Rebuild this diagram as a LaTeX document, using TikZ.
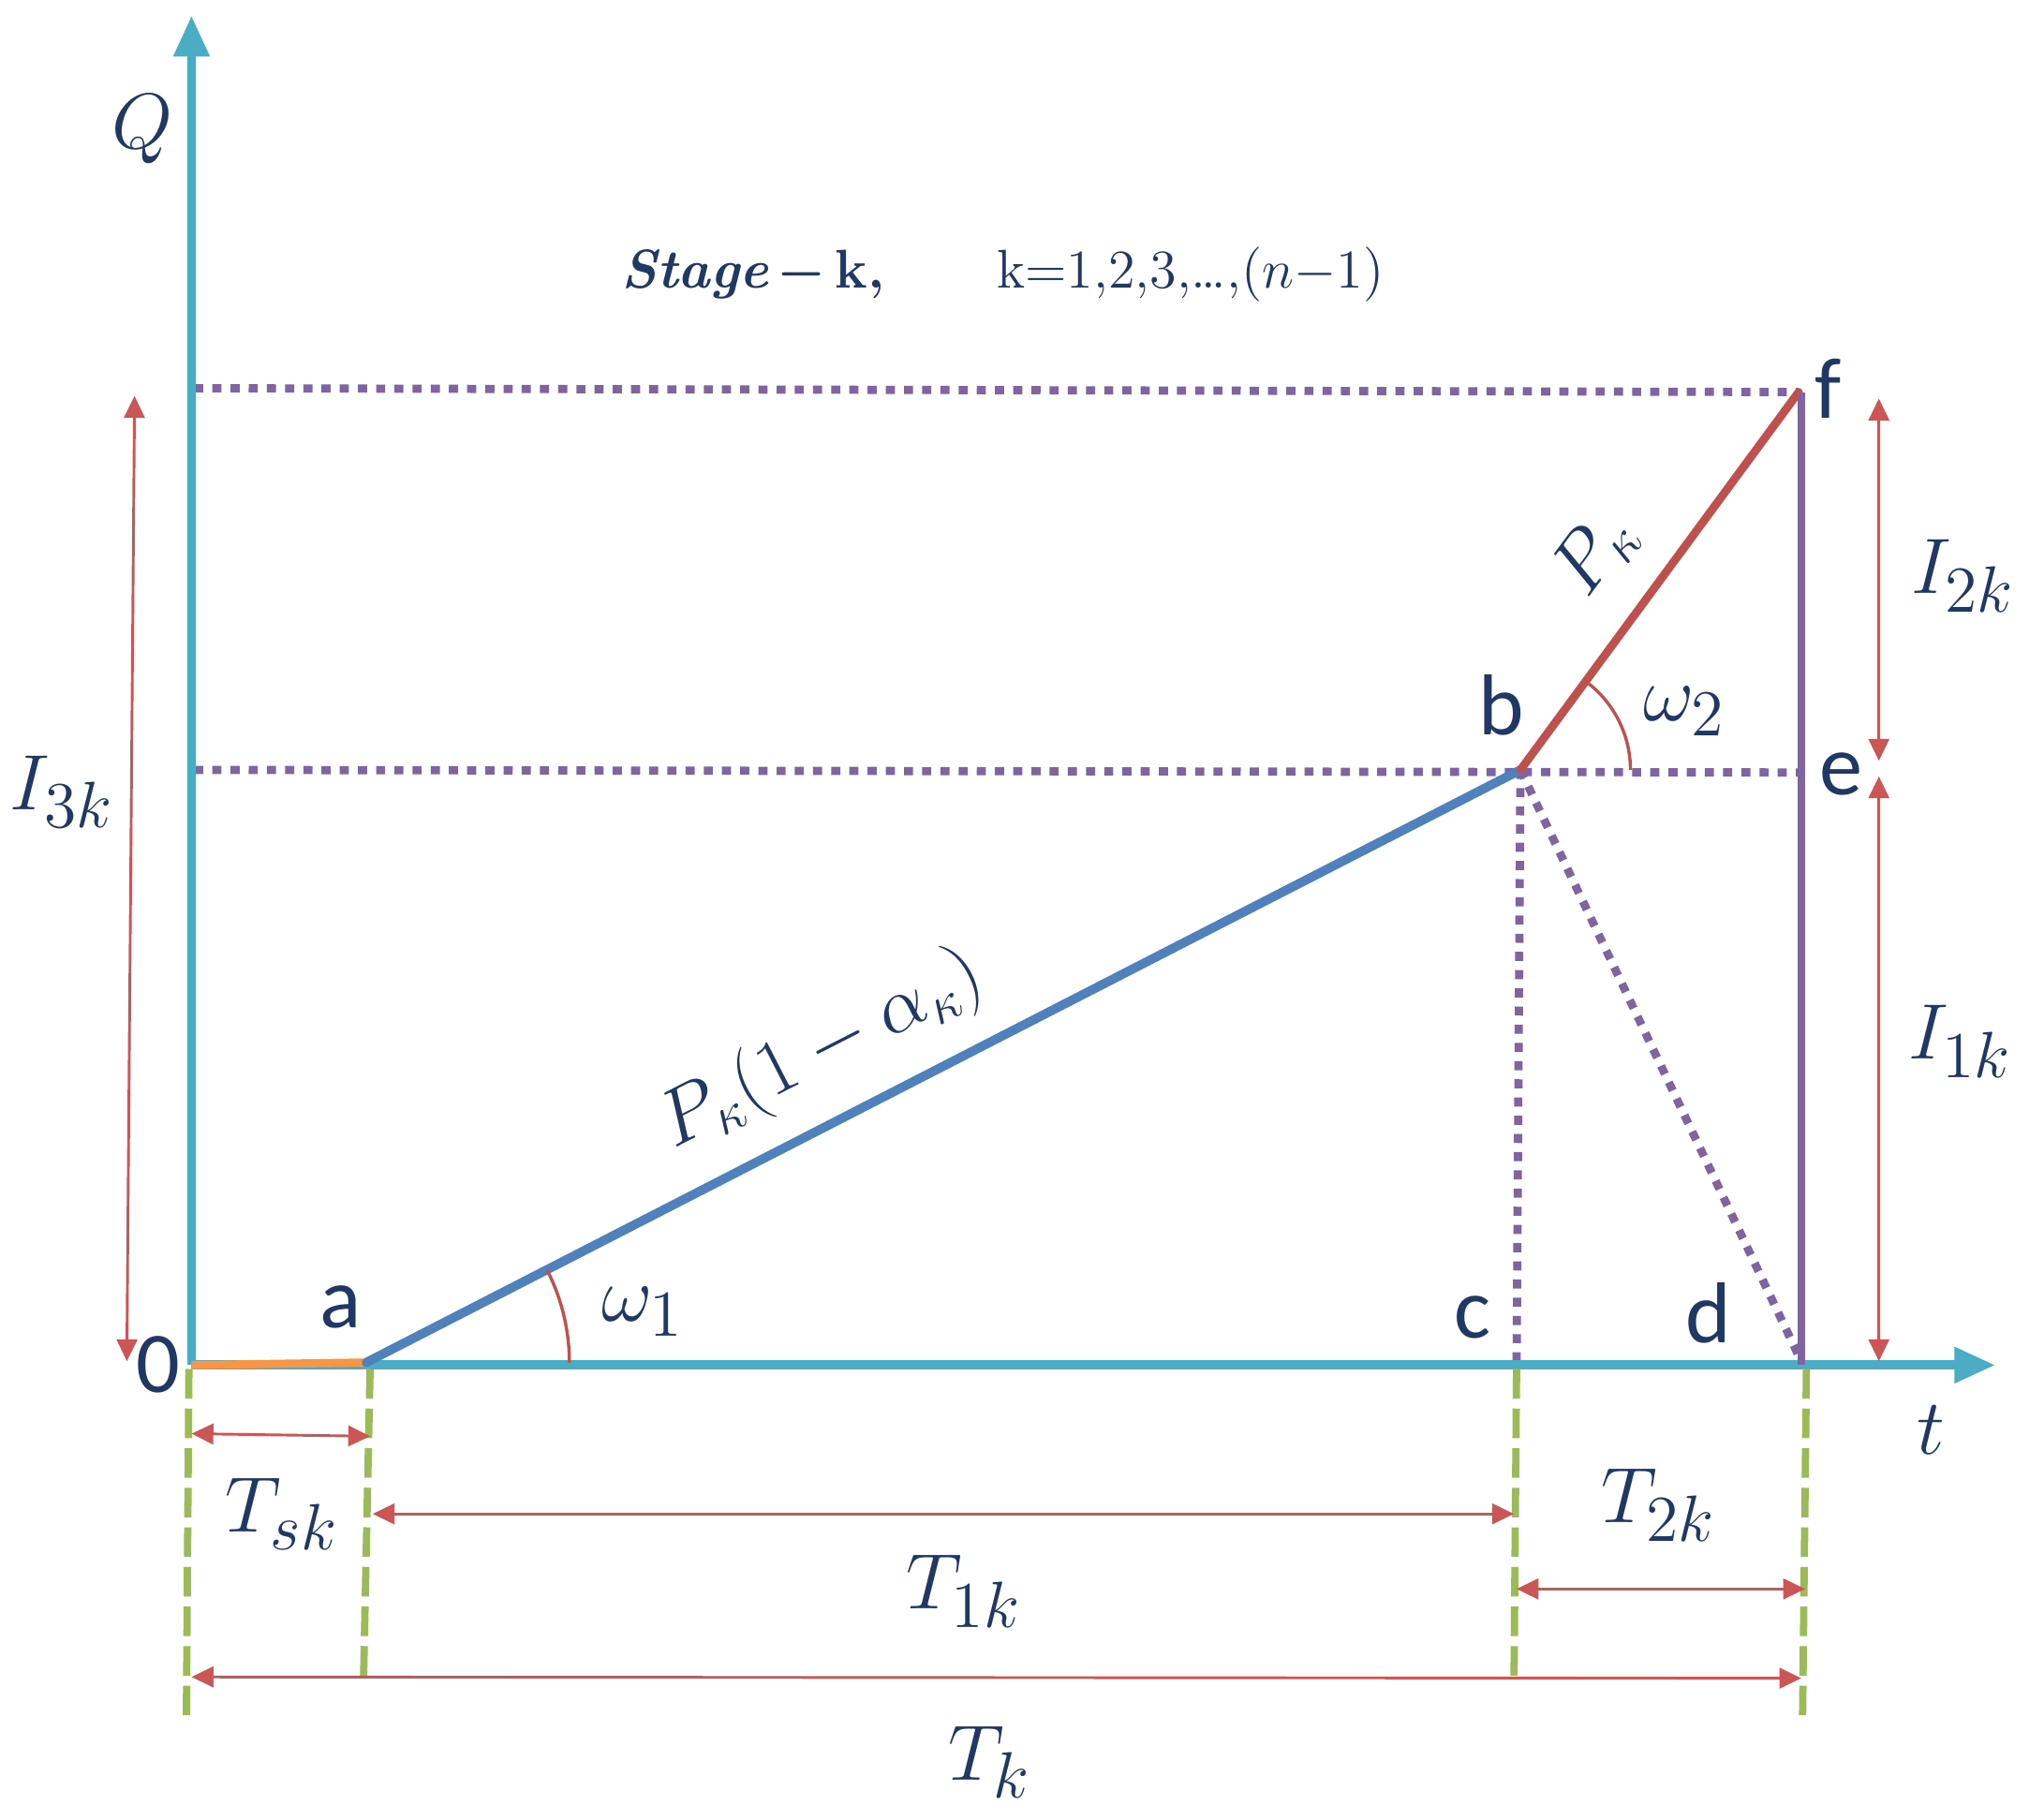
\documentclass[tikz,border=0pt]{standalone}
\usepackage{amsmath}
\usepackage{fontspec}
\newfontfamily\lblfont{Carlito}
\usetikzlibrary{arrows.meta}
\definecolor{axiscol}{HTML}{4BACC6}
\definecolor{bluecol}{HTML}{4F81BD}
\definecolor{redcol}{HTML}{C0504D}
\definecolor{purplecol}{HTML}{8064A2}
\definecolor{greencol}{HTML}{9BBB59}
\definecolor{orangecol}{HTML}{F79646}
\definecolor{navy}{HTML}{203864}
\definecolor{dimred}{HTML}{CC5555}
\tikzset{
  axisline/.style={draw=axiscol,line width=2pt,-{Triangle[length=9pt,width=7.5pt]}},
  dotline/.style={draw=purplecol,line width=1.8pt,dash pattern=on 2pt off 2pt},
  greendash/.style={draw=greencol,line width=1.6pt,dash pattern=on 6.5pt off 2.2pt},
  dimarrow/.style={draw=dimred,line width=0.6pt,{Triangle[length=4.8pt,width=4.5pt]}-{Triangle[length=4.8pt,width=4.5pt]}},
  mlabel/.style={text=navy,font=\fontsize{19}{22}\selectfont,inner sep=0pt},
  slabel/.style={text=navy,font=\lblfont\fontsize{19}{22}\selectfont,inner sep=0pt},
  anglearc/.style={draw=redcol,line width=0.7pt},
}
\begin{document}
\begin{tikzpicture}[x=0.01cm,y=-0.01cm]
\useasboundingbox (0,0) rectangle (1568,1406);
% key points
\coordinate (O) at (148,1055);
\coordinate (Qtip) at (148,12);
\coordinate (ttip) at (1542,1055);
\coordinate (a) at (283,1053);
\coordinate (b) at (1175,595);
\coordinate (f) at (1390,303);
\coordinate (c) at (1172,1055);
\coordinate (d) at (1392,1052);
\coordinate (e) at (1392,597);
\coordinate (fb) at (1392,1055);
\coordinate (ftop) at (1392,303);
\coordinate (L1) at (150,300);
\coordinate (L2) at (150,595);
% dotted guide lines
\draw[dotline] (L1) -- (f);
\draw[dotline] (L2) -- (e);
\draw[dotline] (b) -- (c);
\draw[dotline] (b) -- (d);
% axes
\draw[axisline] (O) -- (Qtip);
\draw[axisline] (O) -- (ttip);
% graph segments
\draw[orangecol,line width=1.8pt] (O) -- (a);
\draw[bluecol,line width=2pt,line cap=round] (a) -- (b);
\draw[redcol,line width=1.8pt,line cap=round] (b) -- (f);
\draw[purplecol,line width=1.8pt] (ftop) -- (fb);
% angle arcs
\draw[anglearc] (a) ++(157,0) arc[start angle=0,end angle=-27.1,radius=157];
\draw[anglearc] (b) ++(85,0) arc[start angle=0,end angle=-53.4,radius=85];
% green dashed verticals
\coordinate (g1t) at (146,1058); \coordinate (g1b) at (144,1330);
\coordinate (g2t) at (286,1058); \coordinate (g2b) at (281,1295);
\coordinate (g3t) at (1172,1058); \coordinate (g3b) at (1170,1300);
\coordinate (g4t) at (1396,1058); \coordinate (g4b) at (1393,1330);
\draw[greendash] (g1t) -- (g1b);
\draw[greendash] (g2t) -- (g2b);
\draw[greendash] (g3t) -- (g3b);
\draw[greendash] (g4t) -- (g4b);
% dimension arrows (vertical)
\coordinate (i3t) at (104,306); \coordinate (i3b) at (98,1052);
\coordinate (i2t) at (1452,308); \coordinate (i2b) at (1452,588);
\coordinate (i1t) at (1452,600); \coordinate (i1b) at (1452,1052);
\draw[dimarrow] (i3t) -- (i3b);
\draw[dimarrow] (i2t) -- (i2b);
\draw[dimarrow] (i1t) -- (i1b);
% dimension arrows (horizontal)
\coordinate (tsl) at (148,1108); \coordinate (tsr) at (286,1110);
\coordinate (t1l) at (288,1170); \coordinate (t1r) at (1170,1170);
\coordinate (t2l) at (1172,1228); \coordinate (t2r) at (1395,1228);
\coordinate (tkl) at (148,1296); \coordinate (tkr) at (1392,1297);
\draw[dimarrow] (tsl) -- (tsr);
\draw[dimarrow] (t1l) -- (t1r);
\draw[dimarrow] (t2l) -- (t2r);
\draw[dimarrow] (tkl) -- (tkr);
% labels
\node[mlabel] (lQ) at (110,100) {$Q$};
\node[mlabel] (lt) at (1492,1105) {$t$};
\node[slabel] (l0) at (122,1055) {0};
\node[slabel] (la) at (263,1010) {a};
\node[slabel] (lb) at (1160,545) {b};
\node[slabel] (lc) at (1138,1018) {c};
\node[slabel] (ld) at (1320,1015) {d};
\node[slabel] (le) at (1423,598) {e};
\node[slabel] (lf) at (1413,300) {f};
\node[mlabel] (lw1) at (497,1014) {$\omega_1$};
\node[mlabel] (lw2) at (1302,550) {$\omega_2$};
\node[mlabel,rotate=27.1,font=\fontsize{18}{21}\selectfont] (lpa) at (635,812) {$P_\kappa(1-\alpha_\kappa)$};
\node[mlabel,rotate=53.4,font=\fontsize{18}{21}\selectfont] (lpk) at (1233,428) {$P_\kappa$};
\node[mlabel] (li3) at (48,612) {$I_{3k}$};
\node[mlabel] (li2) at (1517,445) {$I_{2k}$};
\node[mlabel] (li1) at (1515,805) {$I_{1k}$};
\node[mlabel] (lts) at (218,1170) {$T_{sk}$};
\node[mlabel] (lt1) at (745,1230) {$T_{1k}$};
\node[mlabel] (lt2) at (1282,1163) {$T_{2k}$};
\node[mlabel] (ltk) at (765,1362) {$T_{k}$};
\node[text=navy,font=\fontsize{12}{14}\selectfont,inner sep=0pt] (lstage) at (582,212) {\textbf{\textit{Stage}}$\,\boldsymbol{-}\,$\textbf{k,}};
\node[text=navy,font=\fontsize{12}{14}\selectfont,inner sep=0pt] (lrange) at (920,212) {k$=$1,2,3,\ldots,$(n{-}1)$};
\end{tikzpicture}
\end{document}
